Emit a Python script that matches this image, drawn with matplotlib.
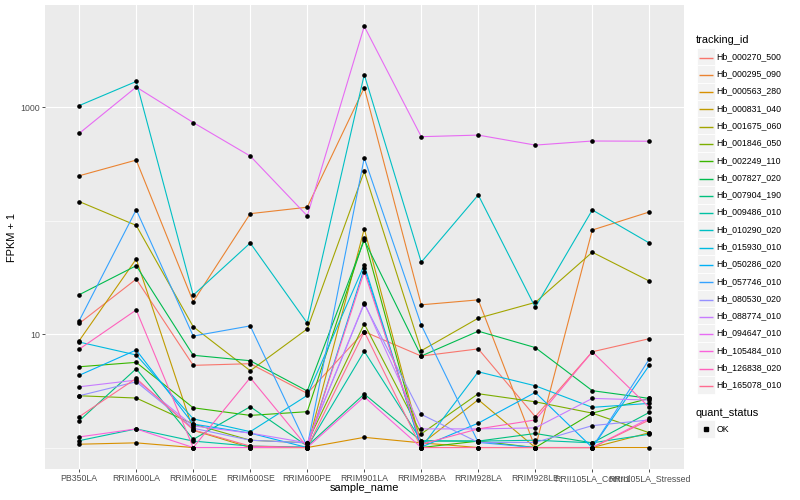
import matplotlib.pyplot as plt
from matplotlib.patches import Rectangle
import numpy as np

plt.rcParams['font.family'] = ['Liberation Sans', 'DejaVu Sans']

samples = ["PB350LA", "RRIM600LA", "RRIM600LE", "RRIM600SE", "RRIM600PE", "RRIM901LA",
           "RRIM928BA", "RRIM928LA", "RRIM928LE", "RRII105LA_Control", "RRII105LA_Stressed"]

tracking_ids = ["Hb_000270_500", "Hb_000295_090", "Hb_000563_280", "Hb_000831_040",
                "Hb_001675_060", "Hb_001846_050", "Hb_002249_110", "Hb_007827_020",
                "Hb_007904_190", "Hb_009486_010", "Hb_010290_020", "Hb_015930_010",
                "Hb_050286_020", "Hb_057746_010", "Hb_080530_020", "Hb_088774_010",
                "Hb_094647_010", "Hb_105484_010", "Hb_126838_020", "Hb_165078_010"]

# ggplot hue palette, 20 levels
colors = ["#F8766D", "#EA8331", "#D89000", "#C09B00", "#A3A500", "#7CAE00", "#39B600",
          "#00BB4E", "#00BF7D", "#00C1A3", "#00BFC4", "#00BAE0", "#00B0F6", "#35A2FF",
          "#9590FF", "#C77CFF", "#E76BF3", "#FA62DB", "#FF62BC", "#FF6C91"]

# FPKM + 1, one list per gene, in sample order
hb_000270_500 = [12.4, 30.5, 5.3, 5.48, 3.0, 10.5, 6.4, 7.4, 1.87, 6.98, 9.1]
hb_000295_090 = [248, 341, 19.3, 115, 131, 1480, 18.1, 20.0, 1.0, 82.5, 119]
hb_000563_280 = [1.07, 1.10, 1.0, 1.0, 1.0, 1.23, 1.10, 1.0, 1.0, 1.0, 1.0]
hb_000831_040 = [8.74, 45.8, 1.42, 1.0, 1.0, 84.6, 1.07, 2.64, 1.0, 1.0, 1.35]
hb_001675_060 = [147, 90.6, 11.6, 4.75, 11.1, 271, 7.13, 13.8, 19.0, 52.6, 29.3]
hb_001846_050 = [2.86, 2.73, 1.61, 1.16, 1.10, 12.3, 1.32, 2.98, 2.53, 2.01, 1.35]
hb_002249_110 = [5.15, 5.63, 2.24, 1.92, 2.07, 69.6, 1.0, 1.14, 1.0, 2.01, 2.71]
hb_007827_020 = [22.2, 40.0, 6.5, 5.82, 3.15, 67.3, 6.4, 10.6, 7.6, 3.17, 2.71]
hb_007904_190 = [1.72, 4.95, 1.18, 2.29, 1.03, 2.96, 1.14, 1.14, 1.33, 1.10, 2.04]
hb_009486_010 = [1.15, 1.46, 1.14, 1.03, 1.01, 7.05, 1.15, 1.14, 1.16, 1.10, 1.31]
hb_010290_020 = [1030, 1680, 22.0, 63.4, 12.5, 1930, 43.0, 168, 17.2, 124, 63.4]
hb_015930_010 = [8.5, 6.54, 1.79, 1.38, 2.88, 40.6, 1.0, 4.65, 3.5, 2.26, 2.45]
hb_050286_020 = [4.33, 7.23, 1.61, 1.34, 1.0, 38.1, 1.01, 1.64, 3.06, 1.0, 5.3]
hb_057746_010 = [13.1, 124.5, 9.6, 11.8, 1.02, 356, 12.0, 1.11, 1.0, 1.0, 6.02]
hb_080530_020 = [2.86, 3.8, 1.48, 1.16, 1.10, 18.5, 1.96, 1.11, 1.11, 1.56, 1.75]
hb_088774_010 = [3.43, 3.93, 1.55, 1.34, 1.10, 18.8, 1.46, 1.46, 1.49, 2.71, 2.62]
hb_094647_010 = [586, 1500, 730, 370, 110, 5140, 548, 566, 462, 502, 500]
hb_105484_010 = [1.24, 1.46, 1.0, 1.0, 1.0, 2.8, 1.0, 1.0, 1.0, 1.0, 1.81]
hb_126838_020 = [7.36, 16.3, 1.0, 4.12, 1.01, 35.4, 1.07, 1.46, 1.75, 6.98, 2.26]
hb_165078_010 = [1.87, 4.07, 1.43, 1.03, 1.0, 10.5, 1.0, 1.0, 1.0, 1.0, 1.75]

series = [hb_000270_500, hb_000295_090, hb_000563_280, hb_000831_040, hb_001675_060,
          hb_001846_050, hb_002249_110, hb_007827_020, hb_007904_190, hb_009486_010,
          hb_010290_020, hb_015930_010, hb_050286_020, hb_057746_010, hb_080530_020,
          hb_088774_010, hb_094647_010, hb_105484_010, hb_126838_020, hb_165078_010]

W, H = 800, 500
fig = plt.figure(figsize=(8, 5), dpi=100)
ax = fig.add_axes([45 / W, 1 - 469 / H, 638.5 / W, 464 / H])
ax.set_facecolor("#EBEBEB")
for s in ax.spines.values():
    s.set_visible(False)

x = np.arange(len(samples))
for vals, col in zip(series, colors):
    ax.plot(x, vals, color=col, lw=0.8, zorder=2)
for vals in series:
    ax.plot(x, vals, ls="none", marker="o", ms=2.3, color="black", zorder=3)

ax.set_yscale("log")
ax.set_xlim(-0.6, len(samples) - 0.4)
ax.set_ylim(10 ** -0.189, 10 ** 3.899)
ax.set_yticks([10, 1000])
ax.set_yticklabels(["10", "1000"])
ax.set_yticks([1, 100], minor=True)
ax.set_yticklabels([], minor=True)
ax.set_xticks(x)
ax.set_xticklabels(samples)
ax.tick_params(which="major", length=2, width=0.6, color="#333333", pad=1.6,
               labelsize=6.34, labelcolor="#4D4D4D")
ax.tick_params(which="minor", length=0)
ax.tick_params(axis="x", which="minor", bottom=False)
ax.grid(which="major", color="white", lw=0.8)
ax.grid(which="minor", axis="y", color="white", lw=0.45)
ax.set_axisbelow(True)

fig.text(364 / W, 1 - 488 / H, "sample_name", ha="center", va="center", fontsize=7.92)
fig.text(12 / W, 1 - 237 / H, "FPKM + 1", ha="center", va="center", rotation=90, fontsize=7.92)

# legends, drawn in pixel coordinates
lax = fig.add_axes([0, 0, 1, 1])
lax.set_xlim(0, W)
lax.set_ylim(H, 0)
lax.axis("off")

key = 17.28
kx = 697.3
lax.text(696, 40, "tracking_id", fontsize=7.92, va="center", ha="left")
top = 48
for i, (tid, col) in enumerate(zip(tracking_ids, colors)):
    y0 = top + i * key
    yc = round(y0 + key / 2) + 0.5
    lax.add_patch(Rectangle((kx, y0), key, key, facecolor="#F2F2F2", edgecolor="white", lw=0.6, zorder=1))
    lax.plot([kx + 1.7, kx + key - 1.7], [yc, yc], color=col, lw=1.0, zorder=3,
             solid_capstyle="butt")
    lax.text(716.7, y0 + key / 2, tid, fontsize=6.34, va="center", ha="left")

lax.text(696, 412.5, "quant_status", fontsize=7.92, va="center", ha="left")
y0 = 420.4
lax.add_patch(Rectangle((kx, y0), key, key, facecolor="#F2F2F2", edgecolor="white", lw=0.6))
lax.plot([kx + key / 2], [y0 + key / 2], marker="s", ms=2.2, color="black")
lax.text(716.7, y0 + key / 2, "OK", fontsize=6.34, va="center", ha="left")

fig.savefig("out.png", dpi=100)
